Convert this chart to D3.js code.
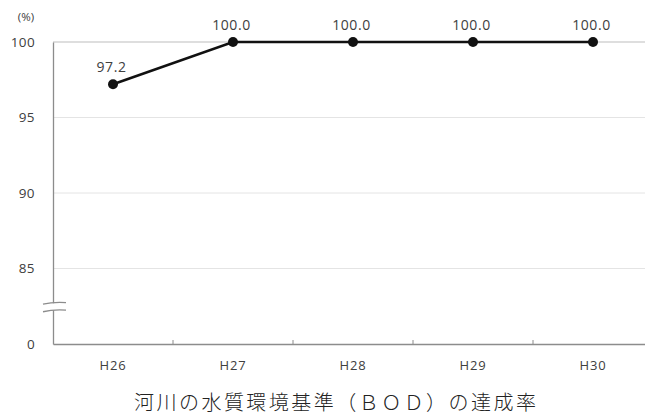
<!DOCTYPE html>
<html><head><meta charset="utf-8">
<script src="https://cdn.jsdelivr.net/npm/d3@7/dist/d3.min.js"></script>
<style>
html,body{margin:0;padding:0;background:#fff;}
svg{display:block;}
</style></head>
<body>
<svg id="c" width="645" height="418"></svg>
<script>
const categories = ["H26","H27","H28","H29","H30"];
const values = [97.2, 100.0, 100.0, 100.0, 100.0];
const valueLabels = ["97.2","100.0","100.0","100.0","100.0"];
// y axis ticks: position value and shown label (80 stands in for broken "0")
const yTickPos = [100, 95, 90, 85, 80];
const yTickLabels = ["100","95","90","85","0"];
const unitLabel = "(%)";
const title = "河川の水質環境基準（ＢＯＤ）の達成率";

(function () {
const svg = d3.select("#c");
const mL = 53, mR = 653, mT = 42, mB = 344;
const FONT = "Open Sans, sans-serif";

const x = d3.scaleBand().domain(categories).range([mL, mR]);
const y = d3.scaleLinear().domain([80, 100]).range([mB, mT]);

// gridlines
svg.append("g").selectAll("line").data(yTickPos.filter(v => v > 80 && v < 100)).join("line")
  .attr("x1", mL).attr("x2", 645)
  .attr("y1", d => y(d)).attr("y2", d => y(d))
  .attr("stroke", "#e4e4e4").attr("stroke-width", 1);

// top border
svg.append("line").attr("x1", mL).attr("x2", 645).attr("y1", y(100)).attr("y2", y(100))
  .attr("stroke", "#bdbdbd").attr("stroke-width", 1);

// y axis
const yAxis = d3.axisLeft(y).tickValues(yTickPos).tickSize(0).tickPadding(0)
  .tickFormat((d, i) => yTickLabels[i]);
const gy = svg.append("g").attr("transform", `translate(${mL},0)`).call(yAxis);
gy.select(".domain").attr("stroke", "#8c8c8c").attr("stroke-width", 1.3);
gy.selectAll("text").attr("x", -18).attr("font-family", FONT)
  .attr("font-size", 13.5).attr("letter-spacing", 0.4).attr("fill", "#404040");

// x axis
const xAxis = d3.axisBottom(x).tickSize(0).tickPadding(0);
const gx = svg.append("g").attr("transform", `translate(0,${mB})`).call(xAxis);
gx.select(".domain").attr("stroke", "#8c8c8c").attr("stroke-width", 1.3);
gx.selectAll("text").attr("y", 17).attr("font-family", FONT)
  .attr("font-size", 13).attr("letter-spacing", 0.8).attr("fill", "#404040");
// category boundary ticks
svg.append("g").selectAll("line").data(categories.slice(1)).join("line")
  .attr("x1", d => x(d)).attr("x2", d => x(d))
  .attr("y1", mB).attr("y2", mB - 4)
  .attr("stroke", "#8c8c8c").attr("stroke-width", 1);

// axis break marker
const yb = (y(85) + y(80)) / 2 + 0.5;
svg.append("rect").attr("x", mL - 3).attr("y", yb - 3.5).attr("width", 6).attr("height", 7).attr("fill", "#fff");
[-3.8, 3.8].forEach(dy => {
  svg.append("path")
    .attr("d", `M${mL-10},${yb+dy+1.2} Q${mL},${yb+dy-1.2} ${mL+13},${yb+dy-0.4}`)
    .attr("fill", "none").attr("stroke", "#8c8c8c").attr("stroke-width", 1.3);
});

// unit label
svg.append("text").attr("x", 26).attr("y", 21).attr("text-anchor", "middle")
  .attr("font-family", FONT).attr("font-size", 11.5).attr("fill", "#404040")
  .text(unitLabel);

// line
const cx = d => x(d) + x.bandwidth() / 2;
svg.append("path").datum(values)
  .attr("d", d3.line().x((d, i) => cx(categories[i])).y(d => y(d)))
  .attr("fill", "none").attr("stroke", "#111").attr("stroke-width", 2.6);

svg.append("g").selectAll("circle").data(values).join("circle")
  .attr("cx", (d, i) => cx(categories[i])).attr("cy", d => y(d)).attr("r", 5)
  .attr("fill", "#111");

svg.append("g").selectAll("text").data(values).join("text")
  .attr("x", (d, i) => cx(categories[i]) - 1.5).attr("y", d => y(d) - 12)
  .attr("text-anchor", "middle").attr("font-family", FONT)
  .attr("font-size", 14).attr("letter-spacing", 0.6).attr("fill", "#404040")
  .text((d, i) => valueLabels[i]);

// title
svg.append("text").attr("x", 335).attr("y", 410).attr("text-anchor", "middle")
  .attr("font-family", "Noto Sans CJK JP, sans-serif").attr("font-size", 20)
  .attr("font-weight", 300).attr("fill", "#222").attr("textLength", 402)
  .text(title);
})();
</script>
</body></html>
